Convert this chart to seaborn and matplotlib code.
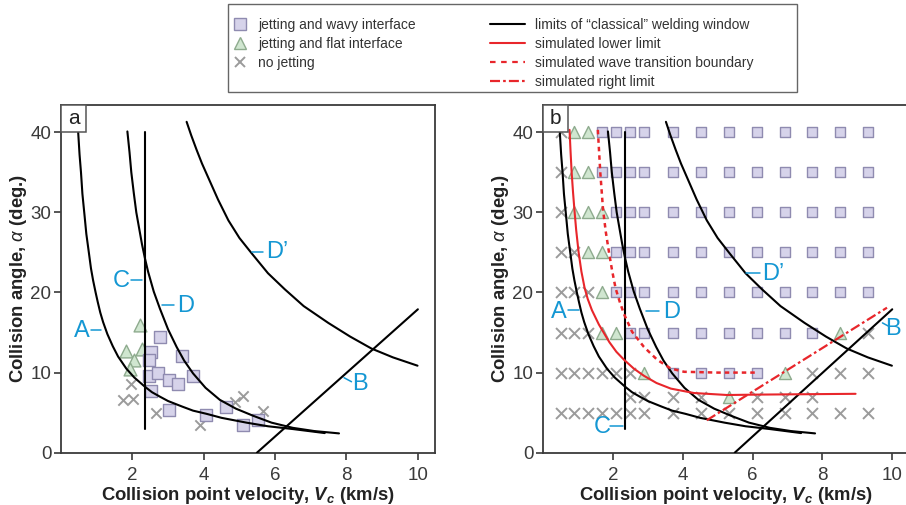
import matplotlib
matplotlib.use("Agg")
import matplotlib.pyplot as plt
from matplotlib.lines import Line2D
from matplotlib.patches import Rectangle
import seaborn as sns
import pandas as pd

sns.set_theme(style="white")
plt.rcParams["font.family"] = ["Liberation Sans", "DejaVu Sans"]
plt.rcParams["mathtext.fontset"] = "custom"
plt.rcParams["mathtext.rm"] = "Liberation Sans"
plt.rcParams["mathtext.it"] = "Liberation Sans:italic"
plt.rcParams["mathtext.bf"] = "Liberation Sans:bold"
HAS_BFIT = "mathtext.bfit" in plt.rcParams
if HAS_BFIT:
    plt.rcParams["mathtext.bfit"] = "Liberation Sans:bold:italic"

# ---------------- welding-window limits (Vc in km/s, alpha in deg) ----------
lim_A_vc = [0.48, 0.52, 0.56, 0.60, 0.66, 0.71, 0.78, 0.84, 0.90, 0.97, 1.03, 1.10,
            1.18, 1.30, 1.45, 1.60, 1.83, 2.05, 2.35, 2.55, 2.77, 3.00, 3.40, 3.70,
            4.08, 4.50, 5.20, 5.80, 6.50, 7.39]
lim_A_alpha = [40.1, 37.2, 35.0, 32.3, 29.6, 27.3, 25.0, 23.0, 21.5, 20.0, 18.8, 17.5,
               16.3, 14.8, 13.3, 12.0, 10.5, 9.4, 8.24, 7.55, 7.0, 6.45, 5.75, 5.25,
               4.85, 4.35, 3.75, 3.3, 2.95, 2.45]

lim_D_vc = [1.86, 1.92, 1.97, 2.04, 2.11, 2.19, 2.27, 2.35, 2.44, 2.60, 2.77, 3.00,
            3.24, 3.45, 3.70, 4.05, 4.45, 4.90, 5.39, 5.90, 6.50, 7.10, 7.79]
lim_D_alpha = [40.1, 37.5, 35.0, 32.4, 30.0, 28.0, 26.0, 24.3, 22.6, 20.1, 18.0, 15.4,
               13.2, 11.5, 9.9, 8.1, 6.6, 5.5, 4.6, 3.75, 3.1, 2.7, 2.41]

lim_Dp_vc = [3.52, 3.65, 3.80, 3.95, 4.12, 4.40, 4.69, 5.00, 5.34, 5.80, 6.27, 6.80,
             7.49, 8.10, 8.70, 9.30, 9.99]
lim_Dp_alpha = [41.3, 39.6, 37.8, 36.1, 34.4, 31.6, 29.0, 26.8, 24.9, 22.4, 20.4, 18.3,
                16.2, 14.5, 13.0, 11.9, 10.86]

lim_B_vc = [5.49, 10.0]
lim_B_alpha = [0.0, 17.9]

lim_C_vc = [2.34, 2.34]
lim_C_alpha = [2.9, 40.0]

# ---------------- simulated limits (panel b) ----------------------------------
sim_lower_vc = [0.76, 0.79, 0.82, 0.86, 0.90, 0.95, 1.02, 1.10, 1.19, 1.28, 1.40, 1.60,
                1.90, 2.10, 2.32, 2.60, 2.89, 3.25, 3.66, 4.32, 5.28, 6.12, 7.50, 8.95]
sim_lower_alpha = [40.3, 37.5, 35.0, 32.5, 30.3, 27.8, 25.0, 22.6, 20.6, 19.2, 17.8, 16.0,
                   13.8, 12.6, 11.6, 10.5, 9.6, 8.7, 8.0, 7.45, 7.2, 7.25, 7.3, 7.35]

sim_wave_vc = [1.57, 1.64, 1.72, 1.80, 1.89, 1.98, 2.08, 2.20, 2.32, 2.55, 2.89, 3.27,
               3.66, 4.04, 5.00, 6.14]
sim_wave_alpha = [40.3, 35.0, 30.3, 27.5, 25.0, 22.7, 20.5, 18.8, 17.3, 15.1, 13.2, 11.6,
                  10.5, 10.1, 10.0, 10.0]

sim_right_vc = [4.69, 9.85]
sim_right_alpha = [4.05, 18.1]

# ---------------- experiments (panel a) ---------------------------------------
exp_wavy_vc = [2.77, 2.51, 2.47, 3.38, 2.46, 2.73, 3.02, 3.27, 3.71, 2.51, 3.02, 4.06, 4.61, 5.11, 5.52]
exp_wavy_alpha = [14.5, 12.55, 11.6, 12.1, 9.58, 10.0, 9.04, 8.54, 9.58, 7.68, 5.28, 4.73, 5.66, 3.43, 4.12]

exp_flat_vc = [2.20, 1.83, 2.04, 1.93, 2.28]
exp_flat_alpha = [16.0, 12.65, 11.6, 10.4, 12.9]

exp_nojet_vc = [1.97, 1.75, 2.02, 2.65, 3.89, 4.87, 5.11, 5.65]
exp_nojet_alpha = [8.6, 6.58, 6.67, 4.95, 3.43, 6.37, 7.03, 5.24]

# ---------------- simulation grid (panel b) -----------------------------------
grid_vc = [0.51, 0.89, 1.28, 1.68, 2.09, 2.49, 2.89, 3.72, 4.52, 5.33, 6.14, 6.92, 7.71, 8.50, 9.30]
grid_alpha = [40, 35, 30, 25, 20, 15, 10, 7, 5]
# s = jetting + wavy, t = jetting + flat, x = no jetting, . = not simulated
grid_codes = [
    "xttssssssssssss",
    "xttssssssssssss",
    "xtttsssssssssss",
    "xxttsssssssssss",
    "xxxtsssssssssss",
    "xxxttsssssssstx",
    "xxxxxxtsssstxxx",
    ".....xxxxtxxx..",
    "xxxxxxxxxxxxxxx",
]

x_ticks = [2, 4, 6, 8, 10]
y_ticks = [0, 10, 20, 30, 40]

# ---------------- styles ------------------------------------------------------
SQ_FACE, SQ_EDGE = "#d6d3ea", "#8f8bb0"
TR_FACE, TR_EDGE = "#d0e6d0", "#8eab8e"
X_COL = "#9b9b9b"
RED = "#e8262b"
BLUE = "#1497d3"
SPINE = "#3a3a3a"
WAVE_DASH = (0, (1.8, 1.6))
RIGHT_DASH = (0, (4.5, 1.4, 1.2, 1.4))

W, H = 906, 505
fig = plt.figure(figsize=(W / 100, H / 100), dpi=100)
fig.patch.set_facecolor("white")


def px_rect(x0, y_top, w, h):
    return [x0 / W, (H - y_top - h) / H, w / W, h / H]


ax_a = fig.add_axes(px_rect(61, 105, 374, 347.7))
ax_b = fig.add_axes(px_rect(543, 105, 366, 347.7))

grid_rows = []
for a, codes in zip(grid_alpha, grid_codes):
    for v, c in zip(grid_vc, codes):
        if c != ".":
            grid_rows.append({"vc": v, "alpha": a, "kind": c})
grid_df = pd.DataFrame(grid_rows)


def draw_classical(ax):
    for xs, ys in [(lim_A_vc, lim_A_alpha), (lim_D_vc, lim_D_alpha),
                   (lim_Dp_vc, lim_Dp_alpha), (lim_B_vc, lim_B_alpha),
                   (lim_C_vc, lim_C_alpha)]:
        sns.lineplot(x=xs, y=ys, sort=False, estimator=None, color="black",
                     lw=1.5, ax=ax, zorder=4)


def tag(ax, text, x, y, dash):
    ax.text(x, y, text, color=BLUE, fontsize=17, ha="center", va="center", zorder=6)
    (x0, y0), (x1, y1) = dash
    ax.plot([x0, x1], [y0, y1], color=BLUE, lw=1.1, zorder=6)


def style_axes(ax, letter, box_w):
    ax.set_xlim(0, 10.48)
    ax.set_ylim(0, 43.4)
    ax.set_xticks(x_ticks)
    ax.set_yticks(y_ticks)
    ax.tick_params(axis="both", which="both", direction="out", length=5,
                   width=1.2, color=SPINE, labelsize=13.5, labelcolor="#3a3a3a",
                   bottom=True, left=True)
    ax.tick_params(axis="x", pad=5)
    ax.tick_params(axis="y", pad=2)
    for s in ax.spines.values():
        s.set_color(SPINE)
        s.set_linewidth(1.3)
    ax.grid(False)
    vlab = r"$\mathbfit{V}_{\mathbfit{c}}$" if HAS_BFIT else r"$\mathbf{V}_{\mathbf{c}}$"
    ax.set_xlabel("Collision point velocity, " + vlab + " (km/s)", fontsize=13.3,
                  fontweight="bold", color="#222222", labelpad=1)
    ax.set_ylabel(r"Collision angle, $\alpha$ (deg.)", fontsize=13.3,
                  fontweight="bold", color="#222222", labelpad=1)
    ax.add_patch(Rectangle((0, 1 - 27 / 347.7), box_w, 27 / 347.7,
                           transform=ax.transAxes, fc="white", ec="#555555",
                           lw=1.1, zorder=7, clip_on=False))
    ax.text(box_w / 2, 1 - 13.5 / 347.7, letter, transform=ax.transAxes,
            fontsize=15, ha="center", va="center", color="#222222", zorder=8)


# ---------------- panel a -----------------------------------------------------
draw_classical(ax_a)
sns.scatterplot(x=exp_nojet_vc, y=exp_nojet_alpha, marker="x", s=55,
                color=X_COL, linewidth=1.4, ax=ax_a, zorder=3)
sns.scatterplot(x=exp_flat_vc, y=exp_flat_alpha, marker="^", s=85,
                color=TR_FACE, edgecolor=TR_EDGE, linewidth=1.0, ax=ax_a, zorder=3)
sns.scatterplot(x=exp_wavy_vc, y=exp_wavy_alpha, marker="s", s=80,
                color=SQ_FACE, edgecolor=SQ_EDGE, linewidth=1.0, ax=ax_a, zorder=3)

tag(ax_a, "A", 0.57, 15.15, ((0.83, 15.3), (1.13, 15.3)))
tag(ax_a, "C", 1.70, 21.4, ((1.95, 21.6), (2.28, 21.6)))
tag(ax_a, "D", 3.48, 18.3, ((2.84, 18.4), (3.16, 18.4)))
tag(ax_a, "D\u2019", 6.05, 25.0, ((5.35, 25.1), (5.66, 25.1)))
tag(ax_a, "B", 8.37, 8.54, ((7.93, 9.36), (8.14, 8.86)))
style_axes(ax_a, "a", 25 / 374)

# ---------------- panel b -----------------------------------------------------
draw_classical(ax_b)
sns.lineplot(x=sim_lower_vc, y=sim_lower_alpha, sort=False, estimator=None,
             color=RED, lw=1.5, ax=ax_b, zorder=5)
sns.lineplot(x=sim_wave_vc, y=sim_wave_alpha, sort=False, estimator=None,
             color=RED, lw=1.8, linestyle=WAVE_DASH, ax=ax_b, zorder=5)
sns.lineplot(x=sim_right_vc, y=sim_right_alpha, sort=False, estimator=None,
             color=RED, lw=1.6, linestyle=RIGHT_DASH, ax=ax_b, zorder=5)

g_x = grid_df[grid_df.kind == "x"]
g_t = grid_df[grid_df.kind == "t"]
g_s = grid_df[grid_df.kind == "s"]
sns.scatterplot(data=g_x, x="vc", y="alpha", marker="x", s=62, color=X_COL,
                linewidth=1.4, ax=ax_b, zorder=3)
sns.scatterplot(data=g_t, x="vc", y="alpha", marker="^", s=75, color=TR_FACE,
                edgecolor=TR_EDGE, linewidth=1.0, ax=ax_b, zorder=3)
sns.scatterplot(data=g_s, x="vc", y="alpha", marker="s", s=62, color=SQ_FACE,
                edgecolor=SQ_EDGE, linewidth=1.0, ax=ax_b, zorder=3)

tag(ax_b, "A", 0.45, 17.6, ((0.71, 17.8), (1.02, 17.8)))
tag(ax_b, "C", 1.69, 3.25, ((1.93, 3.37), (2.28, 3.37)))
tag(ax_b, "D", 3.67, 17.6, ((2.96, 17.7), (3.31, 17.7)))
tag(ax_b, "D\u2019", 6.60, 22.3, ((5.82, 22.4), (6.22, 22.4)))
tag(ax_b, "B", 10.03, 15.5, ((9.72, 16.2), (9.89, 15.8)))
style_axes(ax_b, "b", 25 / 366)

# ---------------- legend --------------------------------------------------------
fig.add_artist(Rectangle((228 / W, (H - 92) / H), 569 / W, 88 / H,
                         transform=fig.transFigure, fc="white", ec="#666666",
                         lw=1.0, zorder=0))

marker_handles = [
    Line2D([], [], ls="", marker="s", ms=8, mfc=SQ_FACE, mec=SQ_EDGE, mew=1.0),
    Line2D([], [], ls="", marker="^", ms=8.5, mfc=TR_FACE, mec=TR_EDGE, mew=1.0),
    Line2D([], [], ls="", marker="x", ms=7.5, color=X_COL, mew=1.4),
]
marker_labels = ["jetting and wavy interface", "jetting and flat interface", "no jetting"]
line_handles = [
    Line2D([], [], color="black", lw=1.5),
    Line2D([], [], color=RED, lw=1.5),
    Line2D([], [], color=RED, lw=1.6, linestyle=(0, (2.5, 2.5))),
    Line2D([], [], color=RED, lw=1.6, linestyle=RIGHT_DASH),
]
line_labels = ["limits of \u201cclassical\u201d welding window", "simulated lower limit",
               "simulated wave transition boundary", "simulated right limit"]

common = dict(frameon=False, fontsize=10, borderpad=0, borderaxespad=0,
              labelspacing=0.36, loc="upper left", labelcolor="#333333")
fig.legend(marker_handles, marker_labels, handlelength=1.0, handletextpad=0.8,
           bbox_to_anchor=(233 / W, (H - 18) / H), **common)
fig.legend(line_handles, line_labels, handlelength=2.5, handletextpad=0.72,
           bbox_to_anchor=(490 / W, (H - 18) / H), **common)

fig.savefig("out.png", dpi=100)
